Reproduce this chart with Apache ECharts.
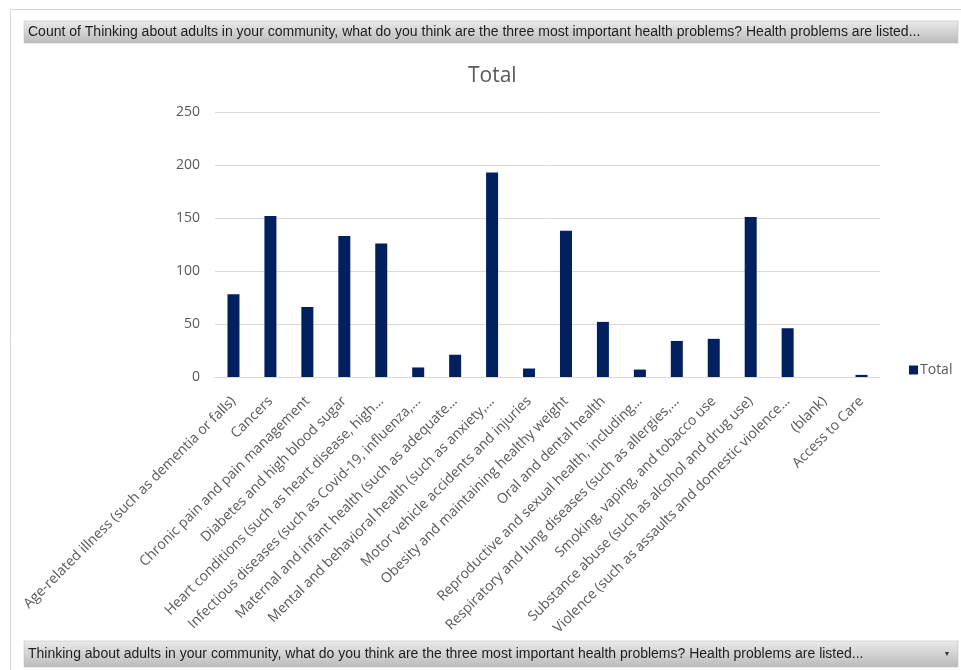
<!DOCTYPE html>
<html><head><meta charset="utf-8">
<script src="https://cdn.jsdelivr.net/npm/echarts@6/dist/echarts.min.js"></script>
<style>html,body{margin:0;padding:0;background:#fff}#c{width:961px;height:670px}</style>
</head><body><div id="c"></div>
<script>
const categories = [
  "Age-related illness (such as dementia or falls)",
  "Cancers",
  "Chronic pain and pain management",
  "Diabetes and high blood sugar",
  "Heart conditions (such as heart disease, high...",
  "Infectious diseases (such as Covid-19, influenza,...",
  "Maternal and infant health (such as adequate...",
  "Mental and behavioral health (such as anxiety,...",
  "Motor vehicle accidents and injuries",
  "Obesity and maintaining healthy weight",
  "Oral and dental health",
  "Reproductive and sexual health, including...",
  "Respiratory and lung diseases (such as allergies,...",
  "Smoking, vaping, and tobacco use",
  "Substance abuse (such as alcohol and drug use)",
  "Violence (such as assaults and domestic violence...",
  "(blank)",
  "Access to Care"
];
const totals = [78, 152, 66, 133, 126, 9, 21, 193, 8, 138, 52, 7, 34, 36, 151, 46, 0, 2];
const seriesName = "Total";
const chartTitle = "Total";
const headerText = "Count of Thinking about adults in your community, what do you think are the three most important health problems? Health problems are listed...";
const footerText = "Thinking about adults in your community, what do you think are the three most important health problems? Health problems are listed...";
const yMin = 0, yMax = 250, yStep = 50;

const chart = echarts.init(document.getElementById('c'), null, {renderer: 'canvas'});
const barGrad = new echarts.graphic.LinearGradient(0, 0, 0, 1, [
  {offset: 0, color: '#ebebeb'}, {offset: 0.5, color: '#d2d2d2'}, {offset: 1, color: '#bcbcbc'}
]);
const font = '"Open Sans", "DejaVu Sans", sans-serif';
const barFont = '"Liberation Sans", Arial, sans-serif';
chart.setOption({
  backgroundColor: '#ffffff',
  animation: false,
  textStyle: {fontFamily: font},
  title: {
    text: chartTitle, left: 463, top: 61,
    textStyle: {fontSize: 21, fontWeight: 'normal', color: '#595959', fontFamily: font}
  },
  legend: {
    data: [seriesName], left: 904, top: 358, orient: 'vertical',
    icon: 'rect', itemWidth: 9, itemHeight: 9, itemGap: 4,
    textStyle: {fontSize: 14, color: '#595959', fontFamily: font, padding: [0, 0, 0, -3]}
  },
  grid: {left: 215, right: 81, top: 112, bottom: 293, containLabel: false},
  xAxis: {
    type: 'category', data: categories,
    axisLine: {show: true, lineStyle: {color: '#d9d9d9', width: 1}},
    axisTick: {show: false},
    axisLabel: {interval: 0, rotate: 45, margin: 22, fontSize: 14, color: '#595959', fontFamily: font}
  },
  yAxis: {
    type: 'value', min: yMin, max: yMax, interval: yStep,
    axisLine: {show: false}, axisTick: {show: false},
    axisLabel: {fontSize: 14, color: '#595959', margin: 15, fontFamily: font},
    splitLine: {lineStyle: {color: '#d9d9d9', width: 1}}
  },
  series: [{
    name: seriesName, type: 'bar', data: totals, barWidth: 12,
    itemStyle: {color: '#002060'}
  }],
  graphic: [
    {type: 'rect', silent: true, shape: {x: 10.5, y: 9.5, width: 960, height: 670},
     style: {fill: 'none', stroke: '#d6d6d6', lineWidth: 1}},
    {type: 'rect', silent: true, shape: {x: 24, y: 21, width: 934, height: 22},
     style: {fill: barGrad, stroke: '#b5b5b5', lineWidth: 0.5}},
    {type: 'text', silent: true, x: 28, y: 32,
     style: {text: headerText, fill: '#1e1e1e', fontSize: 14, fontFamily: barFont, verticalAlign: 'middle'}},
    {type: 'rect', silent: true, shape: {x: 24, y: 641, width: 934, height: 26},
     style: {fill: barGrad, stroke: '#b5b5b5', lineWidth: 0.5}},
    {type: 'text', silent: true, x: 28, y: 654,
     style: {text: footerText, fill: '#1e1e1e', fontSize: 14, fontFamily: barFont, verticalAlign: 'middle'}},
    {type: 'text', silent: true, x: 947, y: 654,
     style: {text: '▼', fill: '#333', fontSize: 7, align: 'center', verticalAlign: 'middle'}}
  ]
});
</script></body></html>
